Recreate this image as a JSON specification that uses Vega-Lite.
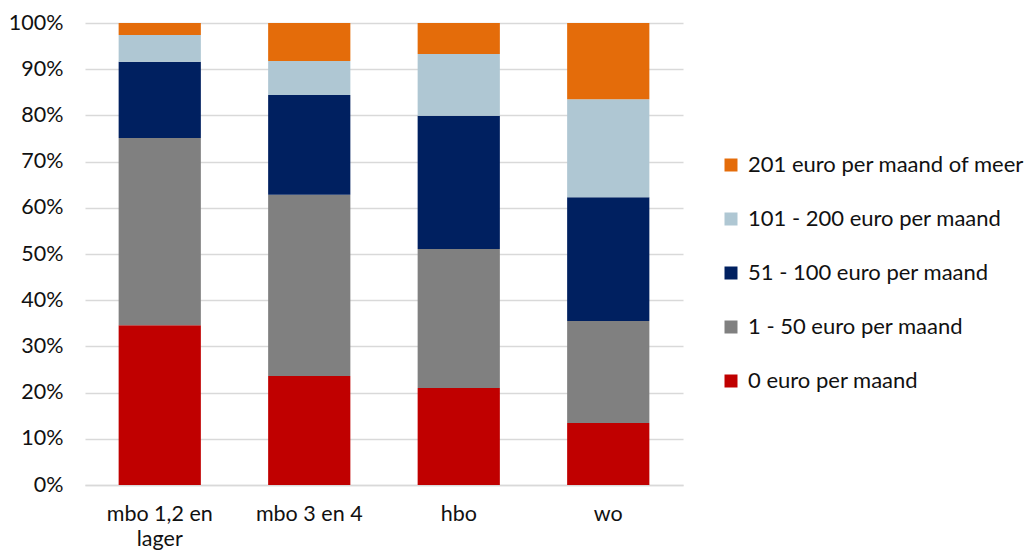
{
  "$schema": "https://vega.github.io/schema/vega-lite/v6.json",
  "width": 598,
  "height": 462,
  "autosize": {"type": "none"},
  "padding": {"left": 85, "top": 23, "right": 347, "bottom": 71},
  "background": "white",
  "config": {"view": {"stroke": null}, "font": "Lato"},
  "data": {
    "values": [
      {"opleiding": "mbo 1,2 en lager", "categorie": "0 euro per maand", "k": 1, "pct": 34.6},
      {"opleiding": "mbo 1,2 en lager", "categorie": "1 - 50 euro per maand", "k": 2, "pct": 40.5},
      {"opleiding": "mbo 1,2 en lager", "categorie": "51 - 100 euro per maand", "k": 3, "pct": 16.5},
      {"opleiding": "mbo 1,2 en lager", "categorie": "101 - 200 euro per maand", "k": 4, "pct": 5.8},
      {"opleiding": "mbo 1,2 en lager", "categorie": "201 euro per maand of meer", "k": 5, "pct": 2.6},
      {"opleiding": "mbo 3 en 4", "categorie": "0 euro per maand", "k": 1, "pct": 23.6},
      {"opleiding": "mbo 3 en 4", "categorie": "1 - 50 euro per maand", "k": 2, "pct": 39.2},
      {"opleiding": "mbo 3 en 4", "categorie": "51 - 100 euro per maand", "k": 3, "pct": 21.6},
      {"opleiding": "mbo 3 en 4", "categorie": "101 - 200 euro per maand", "k": 4, "pct": 7.4},
      {"opleiding": "mbo 3 en 4", "categorie": "201 euro per maand of meer", "k": 5, "pct": 8.2},
      {"opleiding": "hbo", "categorie": "0 euro per maand", "k": 1, "pct": 21.0},
      {"opleiding": "hbo", "categorie": "1 - 50 euro per maand", "k": 2, "pct": 30.1},
      {"opleiding": "hbo", "categorie": "51 - 100 euro per maand", "k": 3, "pct": 28.8},
      {"opleiding": "hbo", "categorie": "101 - 200 euro per maand", "k": 4, "pct": 13.4},
      {"opleiding": "hbo", "categorie": "201 euro per maand of meer", "k": 5, "pct": 6.7},
      {"opleiding": "wo", "categorie": "0 euro per maand", "k": 1, "pct": 13.4},
      {"opleiding": "wo", "categorie": "1 - 50 euro per maand", "k": 2, "pct": 22.1},
      {"opleiding": "wo", "categorie": "51 - 100 euro per maand", "k": 3, "pct": 26.8},
      {"opleiding": "wo", "categorie": "101 - 200 euro per maand", "k": 4, "pct": 21.2},
      {"opleiding": "wo", "categorie": "201 euro per maand of meer", "k": 5, "pct": 16.5}
    ]
  },
  "mark": {"type": "bar"},
  "encoding": {
    "x": {
      "field": "opleiding",
      "type": "nominal",
      "sort": ["mbo 1,2 en lager", "mbo 3 en 4", "hbo", "wo"],
      "scale": {"paddingInner": 0.45, "paddingOuter": 0.225},
      "axis": {
        "title": null,
        "labelAngle": 0,
        "labelFontSize": 21.5,
        "labelColor": "#111111",
        "ticks": false,
        "domainColor": "#d9d9d9",
        "domainWidth": 1.5,
        "labelPadding": 18,
        "labelBaseline": "top",
        "labelLineHeight": 25,
        "labelExpr": "datum.value == 'mbo 1,2 en lager' ? ['mbo 1,2 en', 'lager'] : datum.value"
      }
    },
    "y": {
      "field": "pct",
      "type": "quantitative",
      "stack": "normalize",
      "scale": {"domain": [0, 1]},
      "axis": {
        "title": null,
        "format": ".0%",
        "values": [0, 0.1, 0.2, 0.3, 0.4, 0.5, 0.6, 0.7, 0.8, 0.9, 1],
        "domain": false,
        "ticks": false,
        "labelFontSize": 21.5,
        "labelColor": "#111111",
        "labelPadding": 22,
        "gridColor": "#d9d9d9",
        "gridWidth": 1.5
      }
    },
    "color": {
      "field": "categorie",
      "type": "nominal",
      "scale": {
        "domain": ["201 euro per maand of meer", "101 - 200 euro per maand", "51 - 100 euro per maand", "1 - 50 euro per maand", "0 euro per maand"],
        "range": ["#E46C0A", "#AFC7D3", "#002060", "#808080", "#C00000"]
      },
      "legend": {
        "orient": "none",
        "legendX": 635,
        "legendY": 131,
        "title": null,
        "symbolType": "square",
        "symbolSize": 169,
        "symbolStrokeWidth": 0,
        "labelFontSize": 22,
        "labelColor": "#111111",
        "labelOffset": 6,
        "rowPadding": 32,
        "labelLimit": 400
      }
    },
    "order": {"field": "k", "type": "quantitative"}
  }
}
